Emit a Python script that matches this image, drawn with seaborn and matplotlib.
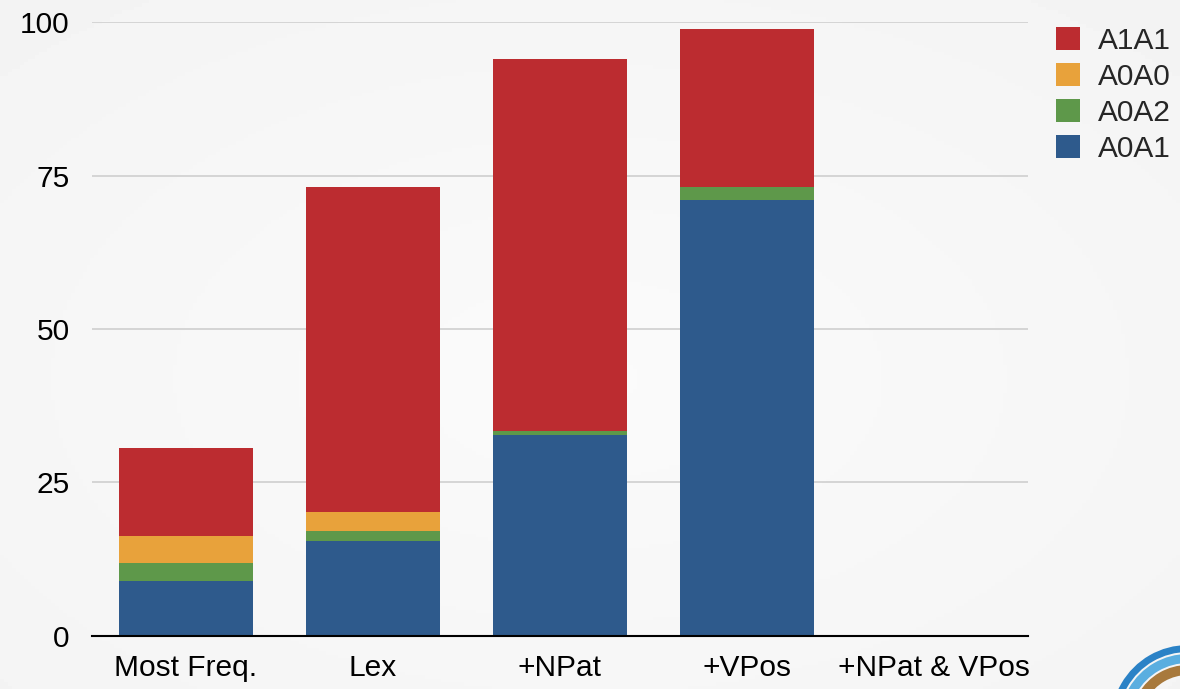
import numpy as np
import matplotlib
matplotlib.use("Agg")
import matplotlib.pyplot as plt
from matplotlib.patches import Patch, Arc
import seaborn as sns

# Data
categories = ["Most Freq.", "Lex", "+NPat", "+VPos", "+NPat & VPos"]
a0a1 = [9.0, 15.5, 32.8, 71.0, 0.0]
a0a2 = [2.9, 1.6, 0.6, 2.1, 0.0]
a0a0 = [4.4, 3.1, 0.0, 0.0, 0.0]
a1a1 = [14.3, 52.9, 60.6, 25.8, 0.0]
series_names = ["A0A1", "A0A2", "A0A0", "A1A1"]
legend_order = ["A1A1", "A0A0", "A0A2", "A0A1"]
y_ticks = [0, 25, 50, 75, 100]

colors = {"A1A1": "#BC2C30", "A0A0": "#E8A23B", "A0A2": "#5E984A", "A0A1": "#2E5A8C"}

sns.set_theme(style="white")
plt.rcParams["font.family"] = ["Liberation Sans", "DejaVu Sans"]

fig = plt.figure(figsize=(11.8, 6.89), dpi=100)
fig.patch.set_facecolor("#f3f3f3")

# soft radial background
bg = fig.add_axes([0, 0, 1, 1], zorder=-10)
yy, xx = np.mgrid[0:1:200j, 0:1:300j]
r = np.sqrt(((xx - 0.5) / 0.8) ** 2 + ((yy - 0.55) / 0.8) ** 2)
bg.imshow(0.982 - 0.03 * np.clip(r, 0, 1), cmap="gray", vmin=0, vmax=1,
          extent=[0, 1, 0, 1], aspect="auto")
bg.set_axis_off()

ax = fig.add_axes([0.078, 0.077, 0.793, 0.891])
ax.set_facecolor("none")

stack = [a0a1, a0a2, a0a0, a1a1]
bottom = np.zeros(len(categories))
for name, vals in zip(series_names, stack):
    sns.barplot(x=categories, y=vals, bottom=bottom, color=colors[name],
                width=0.717, saturation=1, ax=ax, linewidth=0, order=categories)
    bottom = bottom + np.array(vals)

ax.set_xlim(-0.5, 4.5)
ax.set_ylim(0, 100)
ax.set_yticks(y_ticks)
ax.yaxis.grid(True, color="#cfcfcf", linewidth=1.2)
ax.set_axisbelow(True)
for s in ["top", "right", "left"]:
    ax.spines[s].set_visible(False)
ax.spines["bottom"].set_color("black")
ax.spines["bottom"].set_linewidth(1.5)
ax.spines["bottom"].set_zorder(5)
ax.tick_params(axis="both", length=0, labelsize=21.5, colors="black")
ax.tick_params(axis="x", pad=13)
ax.tick_params(axis="y", pad=16)
ax.set_xlabel("")
ax.set_ylabel("")

handles = [Patch(facecolor=colors[n], edgecolor="none") for n in legend_order]
fig.legend(handles, legend_order, loc="upper left",
           bbox_to_anchor=(0.872, 1.0), frameon=False, fontsize=21.5,
           handlelength=0.8, handleheight=0.8, handletextpad=0.6, labelspacing=0.27)

# corner emblem, drawn in pixel coordinates
lax = fig.add_axes([0, 0, 1, 1], zorder=-5)
lax.set_xlim(0, 1180)
lax.set_ylim(689, 0)
lax.set_axis_off()
lax.patch.set_alpha(0)
for rad, col, lw in [(73.5, "#2b82c6", 5.0), (63.5, "#5aaee0", 6.5), (52, "#a8793c", 7.2)]:
    lax.add_patch(Arc((1188, 722), 2 * rad, 2 * rad, theta1=180, theta2=300,
                      color=col, lw=lw))

fig.savefig("out.png", dpi=100, facecolor=fig.get_facecolor())
